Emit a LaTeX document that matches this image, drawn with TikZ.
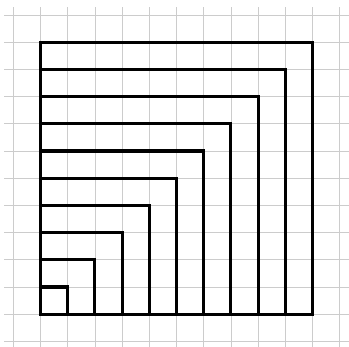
\documentclass[tikz,border=0pt]{standalone}
\begin{document}
\begin{tikzpicture}[x=1cm,y=1cm,
  gridline/.style={draw=black!20, line width=0.6pt},
  sq/.style={draw=black, line width=3.2pt, line join=miter}]
\useasboundingbox (-0.49,-0.2) rectangle (12.34,12.55);
\foreach \i in {0,...,12} {
  \draw[gridline] (\i,-0.25) -- (\i,12.3);
  \draw[gridline] (-0.34,\i) -- (12.4,\i);
}
\foreach \k in {1,...,10} {
  \draw[sq] (1,1) rectangle ({1+\k},{1+\k});
}
\end{tikzpicture}
\end{document}
